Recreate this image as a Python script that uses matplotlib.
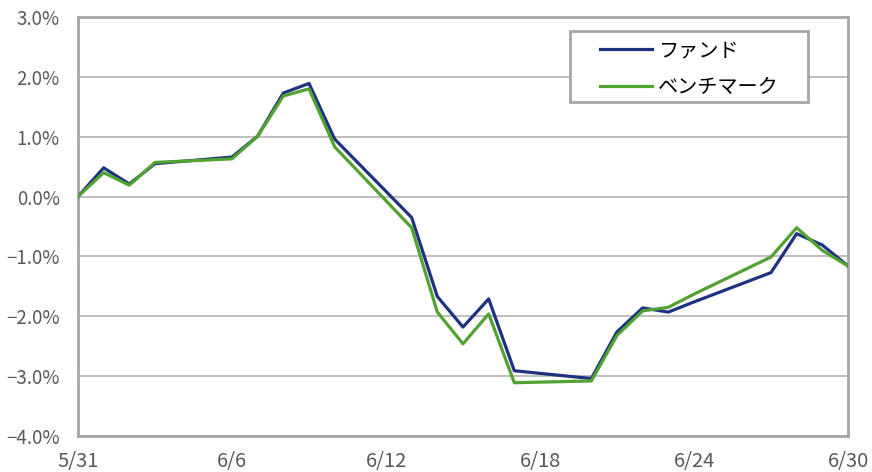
import matplotlib
matplotlib.use("Agg")
import matplotlib.pyplot as plt
from matplotlib.ticker import FuncFormatter
from matplotlib.patches import Rectangle

plt.rcParams['font.family'] = ['Noto Sans CJK JP', 'DejaVu Sans']

# day offsets from 5/31
days = [0, 1, 2, 3, 6, 7, 8, 9, 10, 13, 14, 15, 16, 17, 20, 21, 22, 23, 24, 27, 28, 29, 30]
fund = [0.00, 0.48, 0.21, 0.55, 0.66, 1.01, 1.73, 1.89, 0.96, -0.35, -1.67, -2.18, -1.71,
        -2.91, -3.04, -2.26, -1.86, -1.93, -1.76, -1.27, -0.62, -0.81, -1.16]
bench = [0.00, 0.40, 0.19, 0.57, 0.63, 1.01, 1.68, 1.80, 0.83, -0.52, -1.93, -2.46, -1.96,
         -3.11, -3.08, -2.32, -1.91, -1.85, -1.63, -1.01, -0.52, -0.90, -1.16]
xtick_pos = [0, 6, 12, 18, 24, 30]
xtick_labels = ["5/31", "6/6", "6/12", "6/18", "6/24", "6/30"]
yticks = [3.0, 2.0, 1.0, 0.0, -1.0, -2.0, -3.0, -4.0]

W, H = 872, 472
fig = plt.figure(figsize=(W / 100, H / 100), dpi=100)
ax = fig.add_axes([78 / W, 36 / H, 770 / W, 419 / H])

ax.plot(days, fund, color="#1F3282", lw=2.3, label="ファンド", zorder=3)
ax.plot(days, bench, color="#52A232", lw=2.3, label="ベンチマーク", zorder=4)

ax.set_xlim(0, 30)
ax.set_ylim(-4.0, 3.0)
ax.set_xticks(xtick_pos)
ax.set_xticklabels(xtick_labels)
ax.set_yticks(yticks)
ax.yaxis.set_major_formatter(FuncFormatter(lambda v, p: f"{v:.1f}%".replace("-", "\u2212")))
ax.grid(axis='y', color="#BFBFBF", lw=1.4)
ax.set_axisbelow(True)
for s in ax.spines.values():
    s.set_color("#A6A6A6")
    s.set_linewidth(2)
ax.tick_params(axis='y', length=0, labelsize=13.5, colors="#595959", pad=13)
ax.tick_params(axis='x', length=0, labelsize=14.5, colors="#595959", pad=11)

# legend frame (drawn in figure pixels)
frame = Rectangle((570 / W, 1 - 102 / H), 238 / W, 71 / H, transform=fig.transFigure,
                  facecolor="white", edgecolor="#A6A6A6", lw=2, zorder=5)
fig.add_artist(frame)
leg = fig.legend(loc='upper left', bbox_to_anchor=(600 / W, 1 - 40 / H),
                 bbox_transform=fig.transFigure, fontsize=14.5, frameon=False,
                 borderpad=0, borderaxespad=0, handlelength=2.6, handletextpad=0.3,
                 labelspacing=0.8)
leg.set_zorder(6)
for t in leg.get_texts():
    t.set_color("black")

fig.savefig("out.png", dpi=100)
